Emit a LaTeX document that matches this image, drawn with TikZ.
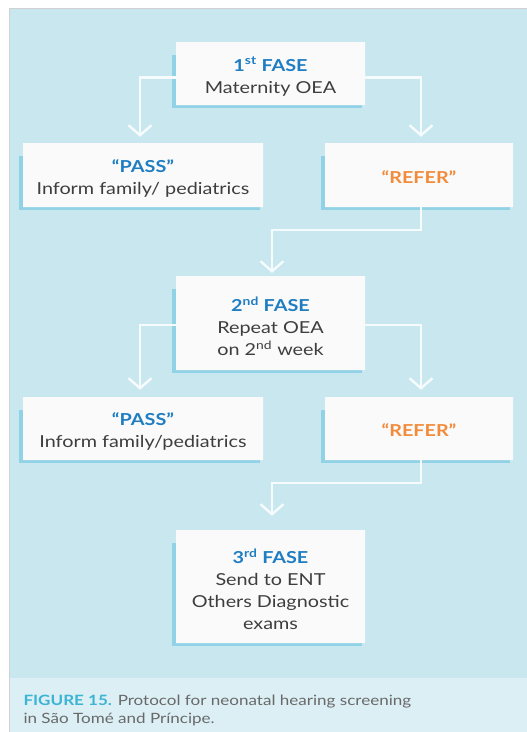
\documentclass[tikz,border=0pt]{standalone}
\usepackage{fontspec}
\setmainfont{Lato}[FakeStretch=1.2]
\usepackage{tikz}
\usetikzlibrary{
  arrows.meta,
  calc,
  positioning,
  backgrounds,
  shapes.misc
}
\definecolor{panelFill}{RGB}{200,231,239}
\definecolor{captionFill}{RGB}{219,239,245}
\definecolor{boxFill}{RGB}{250,250,250}
\definecolor{shadowBlue}{RGB}{146,210,230}
\definecolor{titleBlue}{RGB}{31,126,194}
\definecolor{referOrange}{RGB}{242,140,60}
\definecolor{bodyInk}{RGB}{62,62,62}
\definecolor{captionBlue}{RGB}{60,180,212}
\definecolor{captionInk}{RGB}{105,105,105}
\definecolor{flowWhite}{RGB}{246,251,253}
\tikzset{
  flow/.style={-{Straight Barb[length=10pt,width=23pt]}, draw=flowWhite, line width=2.4pt},
  stepbox/.style={
    chamfered rectangle,
    chamfered rectangle corners=north west,
    chamfered rectangle xsep=6pt,
    chamfered rectangle ysep=7pt,
    fill=boxFill,
    inner sep=0pt
  },
  fasebox/.style={stepbox, minimum width=189pt},
  passbox/.style={stepbox, minimum width=240pt, minimum height=64pt},
  referbox/.style={stepbox, minimum width=188pt, minimum height=64pt},
  boxtext/.style={align=center, inner sep=0pt, font=\fontsize{16.5}{22}\selectfont, text=bodyInk},
  caption/.style={anchor=west, font=\fontsize{14.2}{17}\selectfont, text=captionInk}
}
\newcommand{\FaseTitle}[2]{\textcolor{titleBlue}{\bfseries #1\textsuperscript{#2} FASE}}
\newcommand{\PassTitle}{\textcolor{titleBlue}{\bfseries “PASS”}}
\newcommand{\ReferTitle}{\textcolor{referOrange}{\bfseries “REFER”}}
\newcommand{\BoxShadow}[1]{%
  \fill[shadowBlue] ($(#1.south west)+(-4pt,-3pt)$) rectangle ($(#1.north east)+(-3pt,-13pt)$);
}

\begin{document}
\begin{tikzpicture}[x=1pt,y=-1pt]
  \useasboundingbox (0,0) rectangle (527,732);

  \node[fasebox, minimum height=63pt] (fase1) at (270.5,73.5) {};
  \node[passbox] (pass1) at (143,175) {};
  \node[referbox] (refer1) at (419,175) {};

  \node[fasebox, minimum height=94pt] (fase2) at (270.5,323) {};
  \node[passbox, minimum height=63pt] (pass2) at (143,428.5) {};
  \node[referbox, minimum height=63pt] (refer2) at (419,428.5) {};

  \node[fasebox, minimum height=113pt] (fase3) at (270.5,586.5) {};

  \node[boxtext] (fase1text) at ([yshift=-3pt]fase1.center) {\FaseTitle{1}{st}\\Maternity OEA};
  \node[boxtext] (pass1text) at ([yshift=-3pt]pass1.center) {\PassTitle\\Inform family/ pediatrics};
  \node[boxtext] (refer1text) at ([yshift=-2pt]refer1.center) {\ReferTitle};
  \node[boxtext] (fase2text) at ([yshift=-3pt]fase2.center) {\FaseTitle{2}{nd}\\Repeat OEA\\on 2\textsuperscript{nd} week};
  \node[boxtext] (pass2text) at ([yshift=-3pt]pass2.center) {\PassTitle\\Inform family/pediatrics};
  \node[boxtext] (refer2text) at ([yshift=-2pt]refer2.center) {\ReferTitle};
  \node[boxtext] (fase3text) at ([yshift=-2.5pt]fase3.center) {\FaseTitle{3}{rd}\\Send to ENT\\Others Diagnostic\\exams};

  \begin{scope}[on background layer]
    \fill[panelFill] (9,8) rectangle (527,678);
    \fill[captionFill] (9,678) rectangle (527,732);
    \draw[black!18, line width=0.8pt] (9,732) -- (9,8) -- (527,8);
    \BoxShadow{fase1}
    \BoxShadow{pass1}
    \BoxShadow{refer1}
    \BoxShadow{fase2}
    \BoxShadow{pass2}
    \BoxShadow{refer2}
    \BoxShadow{fase3}
  \end{scope}

  % first screening
  \draw[flow] ([yshift=-4pt]fase1.west) -| ([xshift=-3pt,yshift=6pt]pass1.north);
  \draw[flow] ([yshift=-4pt]fase1.east) -| ([xshift=2pt,yshift=6pt]refer1.north);
  \draw[flow] ([xshift=2pt]refer1.south) -- ++(0pt,-23pt) -| ([xshift=1.5pt,yshift=3pt]fase2.north);

  % second screening
  \draw[flow] ([yshift=-2pt]fase2.west) -| ([xshift=-3pt,yshift=7pt]pass2.north);
  \draw[flow] ([yshift=-2pt]fase2.east) -| ([xshift=2pt,yshift=7pt]refer2.north);
  \draw[flow] ([xshift=2pt]refer2.south) -- ++(0pt,-23pt) -| ([xshift=1.5pt,yshift=14pt]fase3.north);

  \node[caption] (cap1) at (20,702) {\textcolor{captionBlue}{\bfseries FIGURE 15.} Protocol for neonatal hearing screening};
  \node[caption] (cap2) at (20,719) {in São Tomé and Príncipe.};
\end{tikzpicture}
\end{document}
